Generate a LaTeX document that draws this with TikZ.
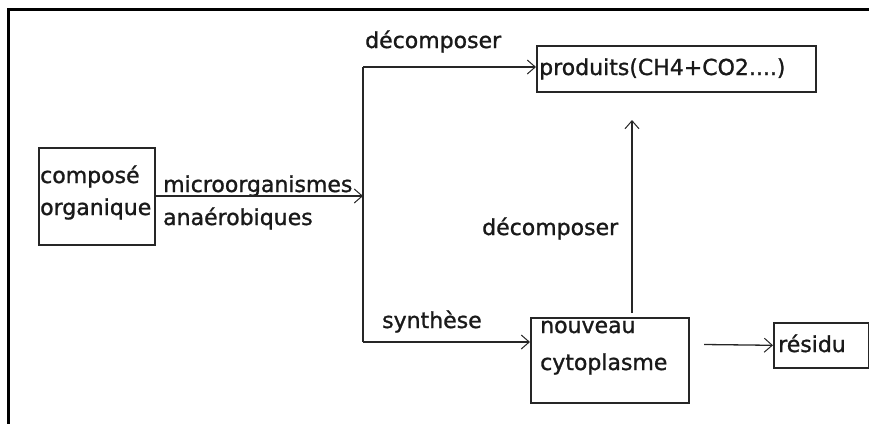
\documentclass[tikz,border=0pt]{standalone}
\usepackage{fontspec}
\setmainfont[FakeBold=1.2]{DejaVu Sans}
\usetikzlibrary{arrows.meta}
\begin{document}
\begin{tikzpicture}[x=1pt,y=-1pt,
  box/.style={draw=black!85,line width=1.6pt,inner sep=0pt,anchor=north west},
  lbl/.style={anchor=base west,inner sep=0pt,font=\fontsize{22}{25}\selectfont,text=black!90},
  link/.style={draw=black!85,line width=1.3pt},
  flow/.style={link,-{Straight Barb[length=8pt,width=14pt,line width=1pt]}}]
\useasboundingbox (0,0) rectangle (869,423);
% outer frame (top and left edges only)
\draw[line width=3pt,line cap=rect] (8.5,423) -- (8.5,9) -- (869,9);

% boxes
\node[box,minimum width=116pt,minimum height=97pt] (org) at (38,147) {};
\node[box,minimum width=279pt,minimum height=46pt] (prod) at (536,45) {};
\node[box,minimum width=158pt,minimum height=85pt] (cyto) at (530,317) {};
\node[box,minimum width=95pt,minimum height=45pt] (res) at (773,322) {};

% box texts
\node[lbl] (t1) at (40,183) {composé};
\node[lbl] (t2) at (40,215) {organique};
\node[lbl] (t3) at (539,75) {produits(CH4+CO2....)};
\node[lbl] (t4) at (540,333) {nouveau};
\node[lbl] (t5) at (540,370) {cytoplasme};
\node[lbl] (t6) at (778,352) {résidu};

% arrow labels
\node[lbl] (l1) at (163,192) {microorganismes};
\node[lbl] (l2) at (163,225) {anaérobiques};
\node[lbl] (l3) at (365,48) {décomposer};
\node[lbl] (l4) at (482,235) {décomposer};
\node[lbl] (l5) at (382,328) {synthèse};

% branching points
\coordinate (j) at (363,196);
\coordinate (jt) at (363,67);
\coordinate (jb) at (363,342);
\coordinate (up0) at (632,313);
\coordinate (up1) at (632,120);
\coordinate (r0) at (704,344.5);

% connectors
\draw[flow] (org.east |- j) -- (j);
\draw[link] (jt) -- (jb);
\draw[flow] (jt) -- (prod.west |- jt);
\draw[flow] (jb) -- (cyto.west |- jb);
\draw[flow] (up0) -- (up1);
\draw[flow] (r0) -- (res.west);
\end{tikzpicture}
\end{document}
